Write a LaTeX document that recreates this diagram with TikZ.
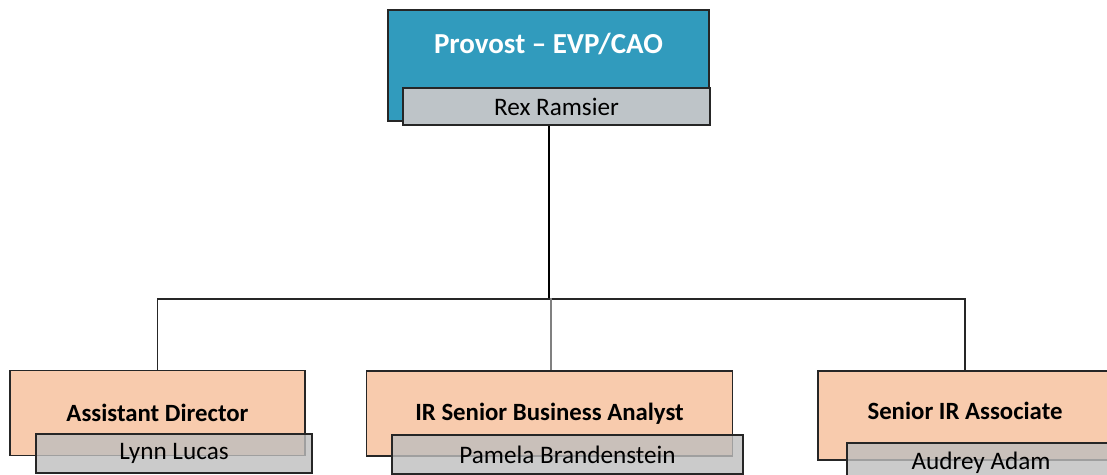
\documentclass[tikz,border=0pt]{standalone}
\usepackage{fontspec}
\setmainfont{Carlito}
\usetikzlibrary{positioning}
\usetikzlibrary{backgrounds}
\definecolor{provteal}{RGB}{49,155,189}
\definecolor{rexgrey}{RGB}{190,196,200}
\definecolor{namegrey}{RGB}{190,190,190}
\definecolor{rolepeach}{RGB}{248,203,173}
\definecolor{edgegrey}{RGB}{38,38,38}
\tikzset{box/.style={draw=edgegrey, line width=1.3pt, rectangle, inner sep=0pt}}
\tikzset{provbox/.style={box, fill=provteal}}
\tikzset{rolebox/.style={box, fill=rolepeach, font=\fontsize{24.8}{29}\selectfont\bfseries}}
\tikzset{namebox/.style={box, fill=namegrey, fill opacity=0.8, text opacity=1, minimum height=39pt, font=\fontsize{25.2}{29}\selectfont}}
\tikzset{wire/.style={draw=edgegrey, line width=1.3pt}}

\begin{document}
\begin{tikzpicture}[x=1pt, y=-1pt]
\useasboundingbox (0,0) rectangle (1107,474);

\node[provbox, minimum width=321pt, minimum height=111pt] (prov) at (548.5,65.5) {};
\node[text=white, font=\fontsize{29}{33}\selectfont\bfseries] (provt) at (548.5,44) {Provost -- EVP/CAO};
\node[namebox, fill=rexgrey, fill opacity=1, minimum width=307pt, minimum height=37pt] (rex) at (556.5,106.5) {Rex Ramsier};

\node[rolebox, minimum width=295pt, minimum height=85pt] (ad) at (157.5,413) {Assistant Director};
\node[namebox, minimum width=276pt] (lynn) at (174,453.5) {Lynn Lucas};

\node[rolebox, minimum width=366pt, minimum height=85pt] (isba) at (549.5,413.5) {IR Senior Business Analyst};
\node[namebox, minimum width=351pt] (pam) at (567.5,454.5) {Pamela Brandenstein};

\node[rolebox, minimum width=294pt, minimum height=89pt] (sira) at (965,415.5) {};
\node[font=\fontsize{24.8}{29}\selectfont\bfseries] (sirat) at (965,411) {Senior IR Associate};
\node[namebox, minimum width=268pt] (aud) at (981,462.5) {Audrey Adam};

\coordinate (bus) at (548.5,299);

\begin{scope}[on background layer]
\draw[line width=2pt, black] (prov.south) -- (bus);
\draw[wire] (bus) -| (ad.north);
\draw[wire] (bus) -| (sira.north);
\draw[line width=2.4pt, gray] (isba.north) ++(1.5,0) -- ++(0,-72);
\end{scope}
\end{tikzpicture}
\end{document}
